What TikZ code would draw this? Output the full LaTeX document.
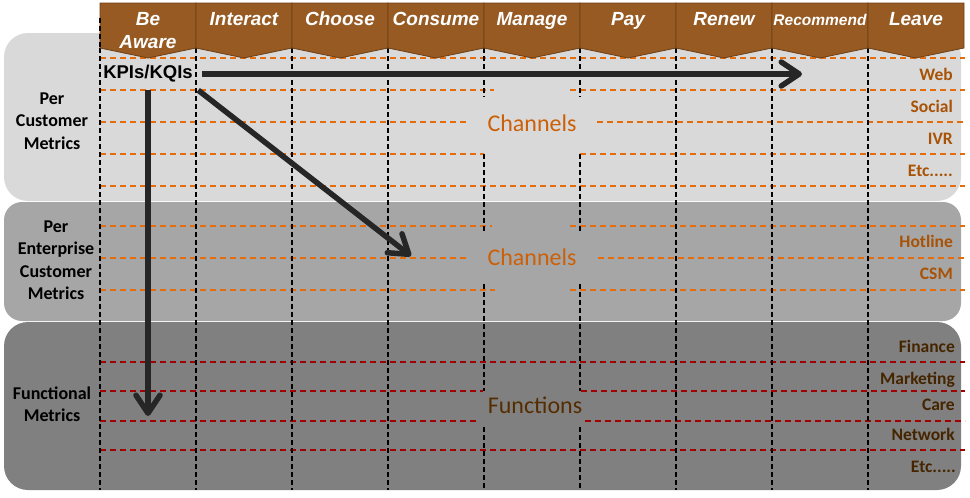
\documentclass[tikz,border=0pt]{standalone}
\usepackage{fontspec}
\setmainfont{Liberation Sans}
\newfontfamily\carl{Carlito}
\usetikzlibrary{arrows.meta}
\definecolor{hdr}{HTML}{965A22}
\definecolor{hdrline}{HTML}{6E3F14}
\definecolor{bandA}{HTML}{D9D9D9}
\definecolor{bandB}{HTML}{A6A6A6}
\definecolor{bandC}{HTML}{808080}
\definecolor{orng}{HTML}{E46C0A}
\definecolor{dred}{HTML}{A00000}
\definecolor{arr}{HTML}{262626}
\definecolor{lblA}{HTML}{A85206}
\definecolor{lblC}{HTML}{452500}
\definecolor{midA}{HTML}{CC6008}
\definecolor{midC}{HTML}{552D00}
\begin{document}
\begin{tikzpicture}[x=1pt,y=-1pt,
  vline/.style={black,line width=1.8pt,dash pattern=on 5pt off 3pt},
  oline/.style={orng,line width=1.1pt,dash pattern=on 6pt off 4pt},
  rline/.style={dred,line width=1.1pt,dash pattern=on 6pt off 4pt},
  hdrtext/.style={text=white,font=\fontsize{19}{23}\selectfont\bfseries\itshape,align=center,inner sep=0pt,anchor=base},
  lefttext/.style={font=\carl\bfseries\fontsize{18}{22.5}\selectfont,align=center,inner sep=0pt},
  righttext/.style={font=\carl\bfseries\fontsize{17.5}{20}\selectfont,anchor=base east,inner sep=0pt},
  midtext/.style={font=\carl\fontsize{24}{28}\selectfont,inner sep=0pt,anchor=base},
  bigarrow/.style={arr,line width=5.5pt,-{Straight Barb[length=18pt,width=24pt,round]}}]
\useasboundingbox (0,0) rectangle (970,498);
% bands
\fill[bandA, rounded corners=24pt] (4,33) rectangle (961,201);
\fill[bandB, rounded corners=18pt] (4,202) rectangle (961,321);
\fill[bandC, rounded corners=24pt] (4,322) rectangle (961,490);
% horizontal dashed lines, band 1
\draw[oline] (100,58) -- (965,58);
\draw[oline] (100,90) -- (494,90);  \draw[oline] (570,90) -- (965,90);
\draw[oline] (100,122) -- (469,122); \draw[oline] (597,122) -- (965,122);
\draw[oline] (100,154) -- (484,154); \draw[oline] (580,154) -- (965,154);
\draw[oline] (100,186) -- (965,186);
% band 2
\draw[oline] (100,226) -- (492,226); \draw[oline] (570,226) -- (965,226);
\draw[oline] (100,258) -- (468,258); \draw[oline] (598,258) -- (965,258);
\draw[oline] (100,290) -- (495,290); \draw[oline] (570,290) -- (965,290);
% band 3
\draw[rline] (100,362) -- (965,362);
\draw[rline] (100,391) -- (483,391); \draw[rline] (581,391) -- (965,391);
\draw[rline] (100,421) -- (476,421); \draw[rline] (585,421) -- (965,421);
\draw[rline] (100,450) -- (965,450);
% vertical dashed lines
\foreach \x in {196,292,388,676,772,868} \draw[vline] (\x,48) -- (\x,490);
\draw[vline] (100,48) -- (100,490);
\foreach \x in {484,580} {
  \draw[vline] (\x,48) -- (\x,97);
  \draw[vline] (\x,154) -- (\x,232);
  \draw[vline] (\x,284) -- (\x,391);
  \draw[vline] (\x,427) -- (\x,490);
}
% header chevrons
\foreach \i in {0,...,8} {
  \pgfmathsetmacro{\xa}{100+96*\i}
  \pgfmathsetmacro{\xb}{196+96*\i}
  \pgfmathsetmacro{\xm}{148+96*\i}
  \filldraw[fill=hdr, draw=hdrline, line width=0.8pt, line join=miter]
    (\xa,3) -- (\xb,3) -- (\xb,48) -- (\xm,58) -- (\xa,48) -- cycle;
}
\draw[vline] (100,18) -- (100,48);
% header texts
\node[hdrtext] (h1) at (148,48) {Be\\Aware};
\node[hdrtext] (h2) at (244,25) {Interact};
\node[hdrtext] (h3) at (340,25) {Choose};
\node[hdrtext] (h4) at (436,25) {Consume};
\node[hdrtext] (h5) at (532,25) {Manage};
\node[hdrtext] (h6) at (628,25) {Pay};
\node[hdrtext] (h7) at (724,25) {Renew};
\node[hdrtext, font=\fontsize{15.5}{18}\selectfont\bfseries\itshape] (h8) at (820,25) {Recommend};
\node[hdrtext] (h9) at (916,25) {Leave};
% left labels
\node[lefttext] (l1) at (52,121) {Per\\Customer\\Metrics};
\node[lefttext] (l2) at (56,260) {Per\\Enterprise\\Customer\\Metrics};
\node[lefttext] (l3) at (52,404) {Functional\\Metrics};
% right labels
\node[righttext, text=lblA] (r1) at (953,80) {Web};
\node[righttext, text=lblA] (r2) at (953,112) {Social};
\node[righttext, text=lblA] (r3) at (953,144) {IVR};
\node[righttext, text=lblA] (r4) at (953,176) {Etc.....};
\node[righttext, text=lblA] (r5) at (953,247) {Hotline};
\node[righttext, text=lblA] (r6) at (953,279) {CSM};
\node[righttext, text=lblC] (r7) at (955,352) {Finance};
\node[righttext, text=lblC] (r8) at (955,384) {Marketing};
\node[righttext, text=lblC] (r9) at (955,410) {Care};
\node[righttext, text=lblC] (r10) at (955,440) {Network};
\node[righttext, text=lblC] (r11) at (956,472) {Etc.....};
% middle labels
\node[midtext, text=midA] (m1) at (532,131) {Channels};
\node[midtext, text=midA] (m2) at (532,265) {Channels};
\node[midtext, text=midC] (m3) at (535,413) {Functions};
% KPIs node and arrows
\node[font=\fontsize{18.5}{20}\selectfont\bfseries, inner sep=0pt, minimum width=100pt, minimum height=32pt] (k) at (148,74) {KPIs/KQIs};
\coordinate (e1) at (802,74);
\coordinate (e2) at (411,256);
\coordinate (e3) at (148,416);
\draw[bigarrow, shorten <=4pt] (k.east) -- (e1);
\draw[bigarrow] (k.south east) -- (e2);
\draw[bigarrow] (k.south) -- (e3);
\end{tikzpicture}
\end{document}
